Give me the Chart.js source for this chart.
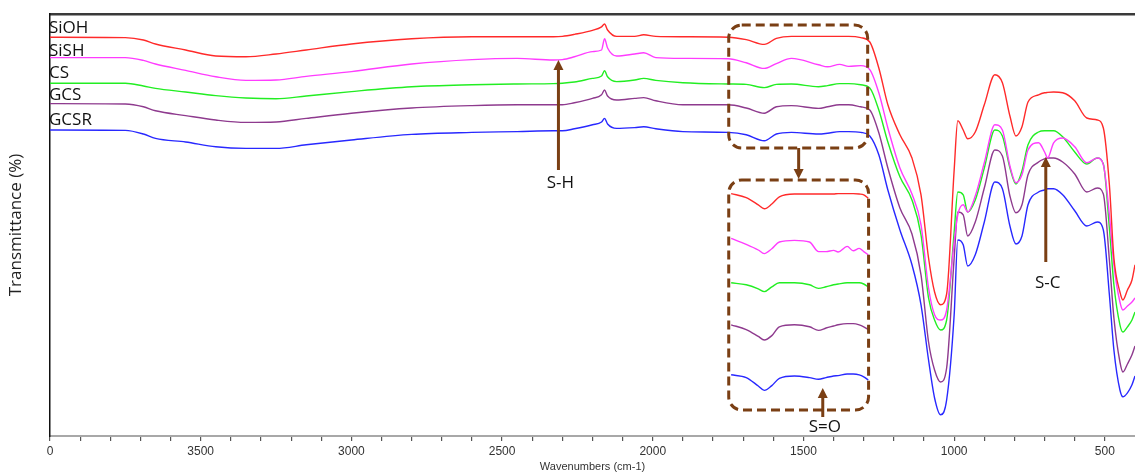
<!DOCTYPE html>
<html>
<head>
<meta charset="utf-8">
<script src="https://cdn.jsdelivr.net/npm/chart.js@4.4.1/dist/chart.umd.min.js"></script>
<style>
  html, body { margin: 0; padding: 0; background: #fff; }
  #wrap { width: 1135px; height: 475px; }
</style>
</head>
<body>
<div id="wrap"><canvas id="ftir" width="1135" height="475"></canvas></div>
<script>
// Números de onda (cm-1) comunes a los cinco espectros
const wavenumbers = [4000, 3750, 3690, 3650, 3550, 3450, 3350, 3250, 3150, 3000,
  2800, 2600, 2450, 2330, 2300, 2260, 2200, 2170, 2160, 2150,
  2120, 2060, 2030, 1990, 1900, 1750, 1690, 1630, 1590, 1540,
  1450, 1420, 1380, 1350, 1310, 1280, 1250, 1220, 1180, 1140,
  1110, 1085, 1065, 1045, 1025, 1000, 988, 970, 955, 930,
  900, 865, 840, 815, 795, 775, 755, 720, 700, 690,
  670, 640, 600, 560, 525, 505, 485, 470, 450, 440,
  425, 410, 400];

// Transmitancia (unidades arbitrarias, espectros desplazados)
const siohValues = [99.7, 99.6, 99.0, 98.0, 96.5, 95.0, 94.8, 95.5, 96.5, 98.0,
  99.3, 99.8, 99.8, 99.8, 99.9, 100.4, 101.4, 102.3, 103.0, 101.5,
  99.9, 99.9, 100.3, 99.9, 99.8, 99.7, 99.1, 97.9, 99.4, 99.9,
  99.9, 99.9, 99.9, 99.9, 99.6, 98.5, 92.0, 82.8, 75.3, 69.5,
  60.3, 44.5, 36.0, 32.8, 35.5, 66.5, 78.8, 76.5, 74.3, 76.0,
  82.8, 90.3, 88.3, 80.0, 75.0, 77.3, 83.5, 85.3, 85.8, 85.9,
  86.0, 85.8, 83.8, 79.5, 79.0, 77.0, 62.8, 44.5, 36.0, 34.0,
  36.5, 39.0, 42.8];

const sishValues = [94.6, 94.6, 93.9, 93.0, 91.4, 89.8, 88.9, 89.0, 89.9, 91.1,
  93.0, 94.1, 94.4, 94.0, 94.1, 94.8, 96.1, 96.5, 99.3, 97.0,
  95.0, 95.5, 95.8, 94.6, 94.4, 94.3, 93.3, 91.9, 93.1, 94.4,
  92.8, 92.3, 92.9, 92.4, 92.6, 91.6, 85.8, 77.0, 67.0, 60.5,
  52.8, 37.0, 30.3, 29.0, 31.5, 48.5, 55.3, 57.8, 56.0, 60.0,
  68.3, 77.8, 76.5, 67.5, 63.3, 65.3, 71.5, 73.3, 71.0, 69.5,
  73.3, 74.5, 72.3, 68.3, 69.5, 67.8, 55.3, 42.8, 33.5, 31.5,
  32.5, 33.5, 34.5];

const csValues = [88.2, 88.2, 87.5, 86.9, 86.0, 85.1, 84.5, 84.3, 85.0, 86.1,
  87.3, 87.8, 88.0, 88.1, 88.2, 88.5, 89.4, 90.0, 91.3, 89.8,
  88.6, 89.0, 89.4, 88.9, 88.3, 88.0, 87.9, 87.1, 87.9, 88.0,
  87.3, 87.6, 88.1, 88.1, 87.8, 87.0, 81.5, 73.5, 64.8, 59.0,
  50.3, 34.5, 29.0, 26.5, 29.0, 51.0, 61.0, 60.3, 56.0, 59.0,
  67.0, 76.5, 75.0, 67.0, 63.0, 66.3, 72.8, 76.0, 76.3, 76.3,
  76.3, 74.8, 71.0, 68.0, 69.5, 68.0, 52.0, 37.8, 27.8, 26.0,
  27.3, 29.0, 31.0];

const gcsValues = [83.1, 83.0, 82.3, 81.3, 80.1, 79.0, 78.4, 78.5, 79.4, 80.7,
  82.0, 82.6, 82.8, 82.8, 82.8, 83.3, 84.4, 85.3, 86.5, 85.0,
  84.0, 84.4, 84.6, 83.8, 82.8, 82.8, 82.0, 80.7, 82.3, 82.6,
  81.9, 82.3, 82.8, 82.8, 82.3, 81.5, 75.8, 67.0, 57.0, 50.5,
  40.3, 23.5, 16.5, 13.5, 17.0, 44.5, 56.0, 55.3, 50.0, 53.5,
  62.0, 71.5, 70.0, 60.0, 55.8, 57.8, 65.3, 68.5, 69.3, 69.5,
  69.5, 68.5, 65.5, 61.0, 62.0, 60.5, 44.0, 29.5, 18.5, 16.0,
  18.0, 20.3, 22.5];

const gcsrValues = [76.5, 76.4, 75.5, 74.4, 73.5, 72.3, 71.9, 71.9, 72.8, 74.0,
  75.4, 75.9, 76.1, 76.3, 76.3, 76.8, 77.8, 78.5, 79.4, 78.0,
  76.9, 77.1, 77.3, 76.8, 76.1, 75.9, 75.3, 73.8, 75.5, 75.9,
  75.5, 75.7, 76.1, 76.1, 75.9, 75.0, 70.3, 61.5, 51.5, 42.8,
  32.8, 19.0, 9.5, 5.3, 9.0, 30.3, 49.0, 47.8, 42.5, 45.3,
  53.5, 63.5, 61.8, 52.5, 48.0, 50.0, 57.8, 61.0, 61.5, 61.8,
  61.8, 60.3, 56.3, 52.5, 53.5, 51.5, 35.3, 21.5, 11.5, 9.8,
  10.8, 12.8, 15.0];

// Ampliación de la zona 1740-1285 cm-1 (recuadro inferior)
const insetWavenumbers = [1740, 1690, 1650, 1630, 1605, 1580, 1530, 1480, 1450, 1425, 1400, 1385, 1355, 1335, 1315, 1300, 1285];
const insetSioh = [60.6, 59.6, 57.8, 56.8, 58.0, 59.8, 60.5, 60.5, 60.5, 60.5, 60.5, 60.6, 60.6, 60.6, 60.5, 60.3, 59.4];
const insetSish = [49.4, 47.9, 46.5, 45.6, 46.8, 48.5, 48.9, 48.5, 46.1, 46.1, 46.4, 46.0, 47.4, 46.3, 46.9, 46.1, 45.3];
const insetCs = [38.3, 37.8, 36.8, 36.1, 37.3, 38.3, 38.3, 37.8, 36.9, 37.3, 37.8, 38.0, 38.3, 38.3, 38.3, 38.0, 37.3];
const insetGcs = [27.8, 26.6, 24.9, 24.0, 25.1, 27.3, 27.8, 27.3, 26.4, 27.0, 27.5, 27.8, 28.1, 28.1, 27.8, 27.3, 26.6];
const insetGcsr = [15.3, 14.6, 12.5, 11.4, 12.6, 14.4, 15.0, 14.6, 14.2, 14.6, 15.0, 15.1, 15.5, 15.5, 15.3, 14.8, 14.0];

const seriesNames = ['SiOH', 'SiSH', 'CS', 'GCS', 'GCSR'];
const majorTicks = [4000, 3500, 3000, 2500, 2000, 1500, 1000, 500];
const tickLabels = ['0', '3500', '3000', '2500', '2000', '1500', '1000', '500'];

const colores = ['#ff2a2a', '#ff3cff', '#22ee22', '#8e3a8e', '#2828ff'];
const marron = '#7a3f14';

const principales = [siohValues, sishValues, csValues, gcsValues, gcsrValues];
const ampliados = [insetSioh, insetSish, insetCs, insetGcs, insetGcsr];

function serie(xs, ys, color) {
    return {
        data: xs.map((w, i) => ({ x: w, y: ys[i] })),
        borderColor: color,
        borderWidth: 1.4,
        pointRadius: 0,
        fill: false,
        cubicInterpolationMode: 'monotone'
    };
}

const datasets = principales.map((ys, i) => serie(wavenumbers, ys, colores[i]))
    .concat(ampliados.map((ys, i) => serie(insetWavenumbers, ys, colores[i])));

// marcas minor cada 100 cm-1
const tickValues = [];
for (let w = 4000; w >= 500; w -= 100) tickValues.push(w);

function flecha(ctx, px, y1, y2) {
    const dir = Math.sign(y2 - y1);
    ctx.beginPath();
    ctx.moveTo(px, y1);
    ctx.lineTo(px, y2 - dir * 8);
    ctx.stroke();
    ctx.beginPath();
    ctx.moveTo(px, y2);
    ctx.lineTo(px - 5, y2 - dir * 10);
    ctx.lineTo(px + 5, y2 - dir * 10);
    ctx.closePath();
    ctx.fill();
}

// Etiquetas, recuadros y flechas
const anotaciones = {
    id: 'anotaciones',
    afterDatasetsDraw(chart) {
        const { ctx, scales: { x, y } } = chart;
        ctx.save();

        // nombres de las muestras
        const etiquetasY = [102, 96.25, 90.75, 85.25, 79];
        ctx.fillStyle = '#111';
        ctx.font = '17px "Open Sans"';
        ctx.textAlign = 'left';
        ctx.textBaseline = 'middle';
        seriesNames.forEach((n, i) => ctx.fillText(n, x.getPixelForValue(4000) - 1, y.getPixelForValue(etiquetasY[i])));

        // recuadros discontinuos
        ctx.strokeStyle = marron;
        ctx.fillStyle = marron;
        ctx.lineWidth = 3;
        ctx.setLineDash([9, 5]);
        [[1748, 1287, 102.75, 72], [1748, 1284, 64, 6.5]].forEach(b => {
            const x1 = x.getPixelForValue(b[0]), x2 = x.getPixelForValue(b[1]);
            const y1 = y.getPixelForValue(b[2]), y2 = y.getPixelForValue(b[3]);
            ctx.beginPath();
            ctx.roundRect(x1, y1, x2 - x1, y2 - y1, 13);
            ctx.stroke();
        });
        ctx.setLineDash([]);

        // flechas
        ctx.lineWidth = 3;
        const flechas = [
            { w: 1516, desde: 72, hasta: 64.25 },
            { w: 2313, desde: 66.5, hasta: 94, texto: 'S-H', ty: 63.3 },
            { w: 696, desde: 43.5, hasta: 69.75, texto: 'S-C', ty: 38.2 },
            { w: 1436, desde: 4.75, hasta: 12, texto: 'S=O', ty: 2.3 }
        ];
        flechas.forEach(f => {
            const px = x.getPixelForValue(f.w);
            flecha(ctx, px, y.getPixelForValue(f.desde), y.getPixelForValue(f.hasta));
            if (f.texto) {
                ctx.fillStyle = '#111';
                ctx.textAlign = 'center';
                ctx.fillText(f.texto, px + 2, y.getPixelForValue(f.ty));
                ctx.fillStyle = marron;
            }
        });
        ctx.restore();
    }
};

new Chart(document.getElementById('ftir'), {
    type: 'line',
    data: { datasets: datasets },
    options: {
        responsive: false,
        animation: false,
        devicePixelRatio: 1,
        layout: { padding: 0 },
        plugins: { legend: { display: false }, tooltip: { enabled: false } },
        scales: {
            x: {
                type: 'linear',
                position: 'bottom',
                reverse: true,
                min: 400,
                max: 4000,
                afterBuildTicks: axis => { axis.ticks = tickValues.map(v => ({ value: v })); },
                afterFit: axis => { axis.height = 39; },
                ticks: {
                    autoSkip: false,
                    maxRotation: 0,
                    padding: 3,
                    color: '#333',
                    font: { family: '"Liberation Sans", Arial', size: 12 },
                    callback: v => {
                        const i = majorTicks.indexOf(v);
                        return i >= 0 ? tickLabels[i] : '';
                    }
                },
                grid: { display: true, drawOnChartArea: false, tickLength: 5, tickColor: '#555', lineWidth: 1.2 },
                border: { display: true, color: '#a8a8a8', width: 2 },
                title: {
                    display: true,
                    text: 'Wavenumbers (cm-1)',
                    color: '#333',
                    font: { family: '"Liberation Sans", Arial', size: 11 },
                    padding: { top: 0, bottom: 1 }
                }
            },
            xTop: {
                type: 'linear',
                position: 'top',
                reverse: true,
                min: 400,
                max: 4000,
                afterFit: axis => { axis.height = 14; },
                ticks: { display: false },
                grid: { display: false },
                border: { display: true, color: '#3a3a3a', width: 2.5 }
            },
            y: {
                min: 0,
                max: 105.5,
                afterFit: axis => { axis.width = 50; },
                ticks: { display: false },
                grid: { display: false },
                border: { display: true, color: '#111', width: 1.5 },
                title: {
                    display: true,
                    text: 'Transmittance (%)',
                    color: '#222',
                    font: { family: '"Open Sans"', size: 17 },
                    padding: { top: 6, bottom: 0 }
                }
            }
        }
    },
    plugins: [anotaciones]
});
</script>
</body>
</html>
